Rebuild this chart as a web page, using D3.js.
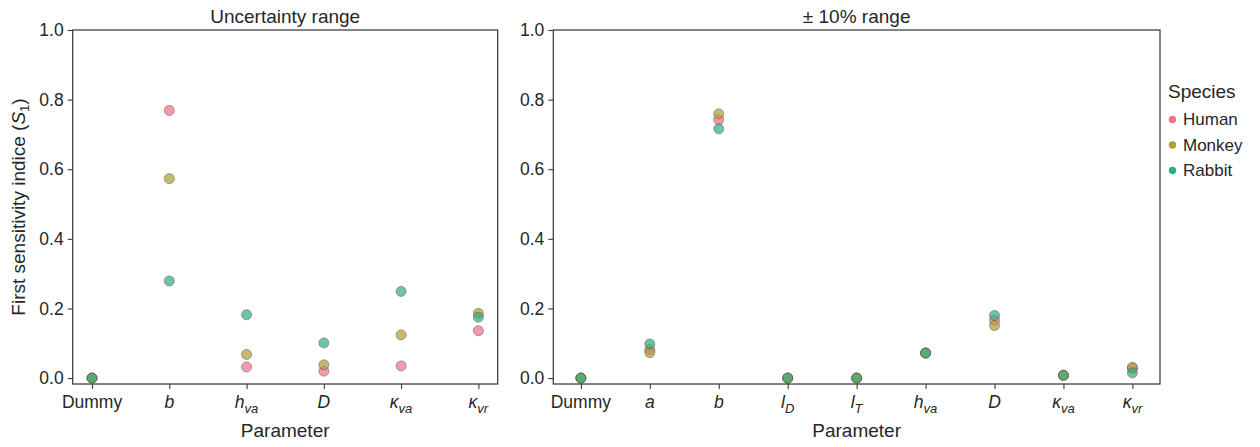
<!DOCTYPE html>
<html>
<head>
<meta charset="utf-8">
<script src="https://cdn.jsdelivr.net/npm/d3@7"></script>
<style>
  body { margin: 0; background: #fff; }
  text { font-family: "Liberation Sans", Arial, sans-serif; fill: #262626; }
</style>
</head>
<body>
<div id="chart"></div>
<script>
// species + colours
const species = ["Human", "Monkey", "Rabbit"];
const speciesColors = ["#f77189", "#b09f33", "#33b07a"];

// left panel: uncertainty range
const leftParams = ["Dummy", "b", "h_va", "D", "κ_va", "κ_vr"];
const leftHuman  = [0, 0.769, 0.032, 0.020, 0.035, 0.136];
const leftMonkey = [0, 0.573, 0.068, 0.038, 0.124, 0.186];
const leftRabbit = [0, 0.279, 0.182, 0.101, 0.249, 0.175];

// right panel: +-10% range
const rightParams = ["Dummy", "a", "b", "l_D", "l_T", "h_va", "D", "κ_va", "κ_vr"];
const rightHuman  = [0, 0.082, 0.742, 0, 0, 0.072, 0.166, 0.008, 0.028];
const rightMonkey = [0, 0.073, 0.759, 0, 0, 0.072, 0.151, 0.008, 0.031];
const rightRabbit = [0, 0.098, 0.716, 0, 0, 0.072, 0.180, 0.008, 0.015];

const yTicks = [0.0, 0.2, 0.4, 0.6, 0.8, 1.0];

const W = 1260, H = 447;
const plotTop = 30, plotBottom = 384;

const svg = d3.select("#chart").append("svg")
  .attr("width", W).attr("height", H);

const yScale = d3.scaleLinear().domain([-0.017, 1.0]).range([plotBottom, plotTop]);

// label like "h_va" -> italic base + subscript
function drawLabel(sel, lab) {
  const parts = lab.split("_");
  const italic = lab !== "Dummy";
  const t = sel.append("tspan").text(parts[0]);
  if (italic) t.attr("font-style", "italic");
  if (parts[1]) {
    sel.append("tspan").text(parts[1])
      .attr("font-style", "italic")
      .attr("font-size", "13px")
      .attr("dy", 5);
  }
}

function panel(x0, x1, params, series, title, showY) {
  const n = params.length;
  const pad = (n - 1) * 0.05;
  const xScale = d3.scaleLinear().domain([-pad, n - 1 + pad]).range([x0, x1]);
  const g = svg.append("g");

  // frame
  g.append("rect")
    .attr("x", x0).attr("y", plotTop)
    .attr("width", x1 - x0).attr("height", plotBottom - plotTop)
    .attr("fill", "none").attr("stroke", "#3a3a3a").attr("stroke-width", 1.25);

  // y axis
  const yAxis = d3.axisLeft(yScale).tickValues(yTicks).tickFormat(d3.format(".1f")).tickSize(5).tickPadding(4);
  const ya = g.append("g").attr("transform", `translate(${x0},0)`).call(yAxis);
  ya.select(".domain").remove();
  ya.selectAll("line").attr("stroke", "#3a3a3a").attr("stroke-width", 1.1);
  ya.selectAll("text").attr("font-size", "17.5px").attr("fill", "#262626")
    .attr("font-family", "Liberation Sans, Arial, sans-serif");

  // x axis
  const xAxis = d3.axisBottom(xScale).tickValues(d3.range(n)).tickSize(5).tickFormat("");
  const xa = g.append("g").attr("transform", `translate(0,${plotBottom})`).call(xAxis);
  xa.select(".domain").remove();
  xa.selectAll("line").attr("stroke", "#3a3a3a").attr("stroke-width", 1.1);
  params.forEach((p, i) => {
    const t = g.append("text")
      .attr("x", xScale(i)).attr("y", plotBottom + 24)
      .attr("text-anchor", "middle")
      .attr("font-size", "17.5px");
    drawLabel(t, p);
  });

  // points
  series.forEach((vals, s) => {
    g.selectAll(null).data(vals).enter().append("circle")
      .attr("cx", (d, i) => xScale(i))
      .attr("cy", d => yScale(d))
      .attr("r", 5)
      .attr("fill", speciesColors[s])
      .attr("stroke", "#555")
      .attr("stroke-width", 0.8)
      .attr("opacity", 0.72);
  });

  // title
  g.append("text")
    .attr("x", (x0 + x1) / 2).attr("y", 23)
    .attr("text-anchor", "middle").attr("font-size", "19px")
    .text(title);

  // x label
  g.append("text")
    .attr("x", (x0 + x1) / 2).attr("y", 437)
    .attr("text-anchor", "middle").attr("font-size", "19px")
    .text("Parameter");

  if (showY) {
    const yl = g.append("text")
      .attr("transform", `translate(25,${(plotTop + plotBottom) / 2}) rotate(-90)`)
      .attr("text-anchor", "middle").attr("font-size", "19px");
    yl.append("tspan").text("First sensitivity indice (");
    yl.append("tspan").text("S").attr("font-style", "italic");
    yl.append("tspan").text("1").attr("font-size", "13px").attr("dy", 4);
    yl.append("tspan").text(")").attr("dy", -4);
  }
}

panel(72.7, 497.7, leftParams, [leftHuman, leftMonkey, leftRabbit], "Uncertainty range", true);
panel(553.3, 1160, rightParams, [rightHuman, rightMonkey, rightRabbit], "± 10% range", false);

// legend
const lg = svg.append("g");
lg.append("text").attr("x", 1168).attr("y", 98).attr("font-size", "19px").text("Species");
species.forEach((s, i) => {
  const cy = 119.5 + i * 25.5;
  lg.append("circle").attr("cx", 1172.5).attr("cy", cy).attr("r", 3.7).attr("fill", speciesColors[i]);
  lg.append("text").attr("x", 1183).attr("y", cy + 5.8).attr("font-size", "17px").text(s);
});
</script>
</body>
</html>
